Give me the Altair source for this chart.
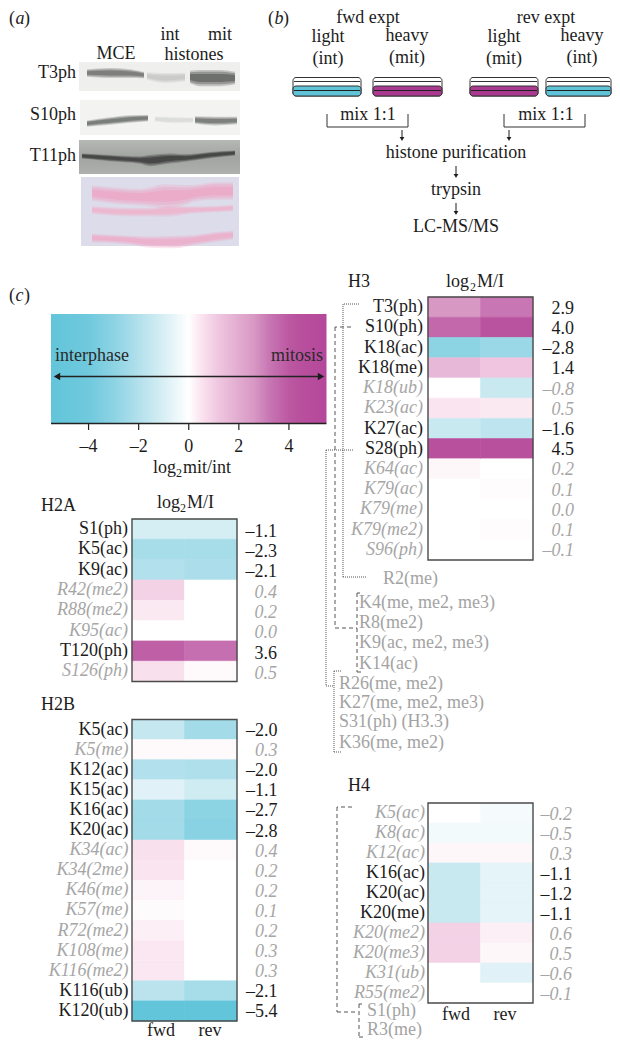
import altair as alt
import pandas as pd

FONT = "Liberation Serif"
INK = "#1c1c1c"
GREY = "#a6a6a6"
TEAL = "#5fc4d8"
MAG = "#a93a90"

# ---- data ----
h3_rows = ["T3(ph)", "S10(ph)", "K18(ac)", "K18(me)", "K18(ub)", "K23(ac)", "K27(ac)", "S28(ph)",
           "K64(ac)", "K79(ac)", "K79(me)", "K79(me2)", "S96(ph)"]
h3_fwd = [2.6, 3.6, -3.0, 1.6, 0, 0.5, -1.4, 4.5, 0.15, 0, 0, 0, 0]
h3_rev = [3.2, 4.3, -2.6, 1.2, -1.4, 0.4, -1.7, 4.5, 0, 0.06, 0, 0.06, 0]
h3_vals = ["2.9", "4.0", "–2.8", "1.4", "–0.8", "0.5", "–1.6", "4.5", "0.2", "0.1", "0.0", "0.1", "–0.1"]
h3_sig = [1, 1, 1, 1, 0, 0, 1, 1, 0, 0, 0, 0, 0]

h2a_rows = ["S1(ph)", "K5(ac)", "K9(ac)", "R42(me2)", "R88(me2)", "K95(ac)", "T120(ph)", "S126(ph)"]
h2a_fwd = [-1.1, -2.3, -2.0, 0.9, 0.4, 0, 3.8, 0.6]
h2a_rev = [-1.1, -2.3, -2.2, 0, 0, 0, 3.4, 0.1]
h2a_vals = ["–1.1", "–2.3", "–2.1", "0.4", "0.2", "0.0", "3.6", "0.5"]
h2a_sig = [1, 1, 1, 0, 0, 0, 1, 0]

h2b_rows = ["K5(ac)", "K5(me)", "K12(ac)", "K15(ac)", "K16(ac)", "K20(ac)", "K34(ac)", "K34(2me)", "K46(me)",
            "K57(me)", "R72(me2)", "K108(me)", "K116(me2)", "K116(ub)", "K120(ub)"]
h2b_fwd = [-1.5, 0.12, -2.0, -0.8, -2.4, -2.4, 0.6, 0.5, 0.2, 0.08, 0.3, 0.45, 0.45, -1.8, -5.4]
h2b_rev = [-2.4, 0.12, -2.1, -1.2, -3.0, -3.1, 0.1, 0, 0, 0, 0, 0, 0, -2.3, -5.4]
h2b_vals = ["–2.0", "0.3", "–2.0", "–1.1", "–2.7", "–2.8", "0.4", "0.2", "0.2", "0.1", "0.2", "0.3", "0.3", "–2.1", "–5.4"]
h2b_sig = [1, 0, 1, 1, 1, 1, 0, 0, 0, 0, 0, 0, 0, 1, 1]

h4_rows = ["K5(ac)", "K8(ac)", "K12(ac)", "K16(ac)", "K20(ac)", "K20(me)", "K20(me2)", "K20(me3)", "K31(ub)", "R55(me2)"]
h4_fwd = [0, -0.3, 0.15, -1.4, -1.4, -1.4, 0.9, 0.9, 0, 0]
h4_rev = [-0.25, -0.3, 0.15, -0.7, -0.7, -0.7, 0.3, 0.15, -0.8, 0]
h4_vals = ["–0.2", "–0.5", "0.3", "–1.1", "–1.2", "–1.1", "0.6", "0.5", "–0.6", "–0.1"]
h4_sig = [0, 0, 0, 1, 1, 1, 0, 0, 0, 0]

cmap_values = [-5.5, -4, -3, -2.3, -1, 0, 0.5, 1.2, 2.6, 3.2, 4, 4.5, 5.5]
cmap_colors = ["#62c5da", "#70c9dd", "#8cd3e4", "#a7dce9", "#d8eff5", "#ffffff", "#fae4ef", "#efc5e0",
               "#d898c4", "#c877b4", "#bc58a2", "#b8509d", "#b5479b"]
legend_ticks = [-4, -2, 0, 2, 4]
legend_labels = ["–4", "–2", "0", "2", "4"]

blot_bands = [
    # colour, x, centre y, half thickness
    ("#6f716e", [87, 110, 130, 144], [73, 73, 73.5, 75], [3, 4, 3.5, 2.5]),
    ("#c6c8c4", [147, 165, 185], [76, 78, 77], [3, 4, 3.5]),
    ("#5e605e", [190, 200, 220, 235], [77, 78, 78, 78], [5, 6.5, 6.5, 5]),
    ("#6b6e6b", [87, 110, 130, 148], [123.5, 121, 119, 118], [2.5, 3, 3, 2.5]),
    ("#d8dad7", [155, 175, 193], [119, 120, 120], [2, 2.5, 2]),
    ("#6e706d", [195, 215, 237], [120, 121, 120.5], [3, 3.5, 3]),
    ("#3a3b3a", [82, 110, 140, 150, 170, 185, 210, 235], [156, 158, 160, 160.5, 158.5, 158, 155, 153],
     [2, 2.5, 3, 4.5, 4, 3, 2.5, 2]),
    ("#eda7c5", [92, 120, 140, 165, 185, 195, 215, 233], [193, 196, 197, 196, 195, 193, 191, 191],
     [6, 6.5, 6.5, 9.5, 8, 6.5, 7, 7]),
    ("#eeb4cd", [92, 130, 150, 170, 190, 215, 233], [210, 212, 212, 211, 210, 209, 208], [3, 3.5, 3.5, 4.5, 3, 2.5, 2.5]),
    ("#edadc9", [92, 130, 150, 175, 195, 215, 233], [238, 240, 242, 242, 240, 237, 235], [3.5, 3.5, 4.5, 5, 4, 4, 3.5]),
]

layers = []
OX, OY = 8, 8
PX = alt.Scale(domain=[0, 620], range=[-OX, 620 - OX])
PY = alt.Scale(domain=[0, 1048], range=[-OY, 1048 - OY])


def T(s, x, y, size=18, align="left", color=INK, italic=False):
    kw = {"fontStyle": "italic"} if italic else {}
    layers.append(
        alt.Chart().mark_text(text=s, font=FONT, fontSize=size, align=align, baseline="middle", color=color, **kw)
        .encode(x=alt.value(x - OX), y=alt.value(y - OY))
    )


def L(x0, y0, x1, y1, color=INK, w=1.0, dash=None):
    kw = {"strokeDash": dash} if dash else {}
    layers.append(
        alt.Chart().mark_rule(color=color, strokeWidth=w, **kw)
        .encode(x=alt.value(x0 - OX), x2=alt.value(x1 - OX), y=alt.value(y0 - OY), y2=alt.value(y1 - OY))
    )


def R(x0, y0, x1, y1, fill=None, stroke=None, w=1.0, radius=0):
    kw = {}
    if fill is not None:
        kw["fill"] = fill
    else:
        kw["fillOpacity"] = 0
    if stroke is not None:
        kw["stroke"] = stroke
        kw["strokeWidth"] = w
    if radius:
        kw["cornerRadius"] = radius
    layers.append(
        alt.Chart().mark_rect(**kw)
        .encode(x=alt.value(x0 - OX), x2=alt.value(x1 - OX), y=alt.value(y0 - OY), y2=alt.value(y1 - OY))
    )


def head(x, y, shape, size=22):
    layers.append(
        alt.Chart().mark_point(shape=shape, filled=True, size=size, color=INK, opacity=1)
        .encode(x=alt.value(x - OX), y=alt.value(y - OY))
    )


def darrow(x, y0, y1):
    L(x, y0, x, y1 - 3, w=1)
    head(x, y1 - 2, "triangle-down", 22)


def logl(x_log, x_sub, x_rest, y, rest):
    T("log", x_log, y)
    T("2", x_sub, y + 5, size=12)
    T(rest, x_rest, y)


# ---- panel labels ----
def plab(letter, x, y):
    T("(", x, y)
    T(letter, x + 6.5, y, italic=True)
    T(")", x + 15, y)


plab("a", 9, 19)
plab("b", 268, 19)
plab("c", 9, 296)

# ---- (a) blots ----
gray = lambda a, b, c: alt.Gradient(gradient="linear", x1=0, x2=0, y1=0, y2=1,
                                    stops=[alt.GradientStop(offset=0, color=a),
                                           alt.GradientStop(offset=0.5, color=b),
                                           alt.GradientStop(offset=1, color=c)])
R(79, 62, 240, 91, fill="#eff0ed")
R(80, 100, 240, 135, fill="#f3f4f2")
R(79, 140, 240, 174, fill=gray("#b6b8b6", "#a2a4a2", "#aeb0ae"))
R(81, 177, 239, 246, fill="#dddcea")
for colour, xs, cs, hs in blot_bands:
    for k, op in ((1.25, 0.3), (0.95, 0.45), (0.6, 0.7)):
        df = pd.DataFrame({"x": xs, "y0": [c - h * k for c, h in zip(cs, hs)], "y1": [c + h * k for c, h in zip(cs, hs)]})
        layers.append(
            alt.Chart(df).mark_area(color=colour, opacity=op, interpolate="monotone").encode(
                x=alt.X("x:Q", scale=PX, axis=None),
                y=alt.Y("y0:Q", scale=PY, axis=None),
                y2="y1:Q",
            )
        )

T("MCE", 116, 54, align="center")
T("int", 170, 35, align="center")
T("mit", 220, 35, align="center")
T("histones", 194, 55, align="center")
T("T3ph", 76, 73, align="right")
T("S10ph", 76, 115, align="right")
T("T11ph", 76, 156, align="right")

# ---- (b) scheme ----
T("fwd expt", 368, 18, align="center")
T("rev expt", 546, 18, align="center")
for x, y, a, b in [(328, 37, "light", "(int)"), (407, 36, "heavy", "(mit)"), (504, 37, "light", "(mit)"), (582, 36, "heavy", "(int)")]:
    T(a, x, y, align="center")
    T(b, x, y + 22, align="center")
for x0, x1, c in [(293, 361, TEAL), (373, 442, MAG), (470, 538, MAG), (546, 611, TEAL)]:
    R(x0, 77.5, x1, 96, fill="#ffffff", stroke="#333333", w=1, radius=3)
    L(x0 + 1, 81.5, x1 - 1, 81.5, color="#333333", w=1)
    R(x0, 86, x1, 96, fill=c, stroke="#333333", w=1, radius=3)
    L(x0 + 1, 90.5, x1 - 1, 90.5, color="#222222", w=1)
for x0, x1 in [(327, 408), (504, 585)]:
    L(x0, 114, x0, 127, color="#333333")
    L(x1, 114, x1, 127, color="#333333")
    L(x0, 127, x1, 127, color="#333333")
T("mix 1:1", 368, 115, align="center")
T("mix 1:1", 546, 115, align="center")
darrow(402, 130, 141)
darrow(509, 130, 141)
T("histone purification", 456, 153, align="center")
darrow(456, 166, 178)
T("trypsin", 456, 190, align="center")
darrow(456, 203, 215)
T("LC-MS/MS", 456, 227, align="center")

# ---- colour bar ----
stops = [alt.GradientStop(offset=(v + 5.5) / 11.0, color=c) for v, c in zip(cmap_values, cmap_colors)]
bar = alt.Gradient(gradient="linear", x1=0, x2=1, y1=0, y2=0, stops=stops)
LEG = alt.Scale(domain=[-5.5, 5.5], range=[51 - OX, 326.5 - OX])
layers.append(
    alt.Chart(pd.DataFrame({"a": [-5.5], "b": [5.5]})).mark_rect(fill=bar).encode(
        x=alt.X("a:Q", scale=LEG, axis=None), x2="b:Q",
        y=alt.value(314 - OY), y2=alt.value(423 - OY))
)
L(51, 423.5, 326.5, 423.5, color="#222222", w=1.3)
layers.append(
    alt.Chart(pd.DataFrame({"v": legend_ticks})).mark_rule(color="#222222", strokeWidth=1.2).encode(
        x=alt.X("v:Q", scale=LEG, axis=None), y=alt.value(423 - OY), y2=alt.value(430 - OY))
)
layers.append(
    alt.Chart(pd.DataFrame({"v": legend_ticks, "t": legend_labels})).mark_text(
        font=FONT, fontSize=18, baseline="middle", color=INK).encode(
        x=alt.X("v:Q", scale=LEG, axis=None), y=alt.value(447 - OY), text="t:N")
)
T("interphase", 55, 356, color="#2a2a2a")
T("mitosis", 323, 356, align="right", color="#2a2a2a")
L(56, 376.5, 322, 376.5, color="#222222", w=1.6)
head(57, 376.5, "triangle-left", 55)
head(321, 376.5, "triangle-right", 55)
logl(153, 176, 183, 468, "mit/int")


# ---- heat maps ----
def panel(rows, fwd, rev, vals, sig, x0, x1, y0, y1, lab_x, val_x, val_dy=1.5):
    df = pd.DataFrame({"row": rows * 2, "exp": ["fwd"] * len(rows) + ["rev"] * len(rows), "v": fwd + rev})
    ys = alt.Scale(domain=rows, range=[y0 - OY, y1 - OY], paddingInner=0, paddingOuter=0)
    xs = alt.Scale(domain=["fwd", "rev"], range=[x0 - OX, x1 - OX], paddingInner=0, paddingOuter=0)
    cs = alt.Scale(domain=cmap_values, range=cmap_colors, interpolate="rgb")
    layers.append(
        alt.Chart(df).mark_rect(strokeWidth=0.6).encode(
            x=alt.X("exp:N", scale=xs, axis=None),
            y=alt.Y("row:N", scale=ys, axis=None),
            color=alt.Color("v:Q", scale=cs, legend=None),
            stroke=alt.Stroke("v:Q", scale=cs, legend=None),
        )
    )
    R(x0, y0, x1, y1, stroke="#4a4a4a", w=1.4)
    for flag, col, style in ((1, INK, {}), (0, GREY, {"fontStyle": "italic"})):
        d = pd.DataFrame({"row": rows, "val": vals, "s": sig})
        d = d[d.s == flag]
        layers.append(
            alt.Chart(d).mark_text(font=FONT, fontSize=18, align="right", baseline="middle", color=col, **style).encode(
                x=alt.value(lab_x - OX), y=alt.Y("row:N", scale=ys, axis=None), text="row:N")
        )
        layers.append(
            alt.Chart(d).mark_text(font=FONT, fontSize=18, align="right", baseline="middle", color=col, dy=val_dy, **style).encode(
                x=alt.value(val_x - OX), y=alt.Y("row:N", scale=ys, axis=None), text="val:N")
        )


panel(h3_rows, h3_fwd, h3_rev, h3_vals, h3_sig, 428, 533, 297, 560, 423, 574)
panel(h2a_rows, h2a_fwd, h2a_rev, h2a_vals, h2a_sig, 132, 237, 519, 681.5, 128, 277, 2.5)
panel(h2b_rows, h2b_fwd, h2b_rev, h2b_vals, h2b_sig, 132, 237, 719.5, 1021, 128.5, 277.5)
panel(h4_rows, h4_fwd, h4_rev, h4_vals, h4_sig, 428, 533, 803, 1003, 425, 572)

T("H3", 348, 282)
logl(446, 470, 477, 282, "M/I")
T("H2A", 41, 506)
logl(157, 180, 187, 503, "M/I")
T("H2B", 41, 705)
T("H4", 348, 786)
T("fwd", 161, 1031, align="center")
T("rev", 210, 1031, align="center")
T("fwd", 456, 1015, align="center")
T("rev", 505, 1015, align="center")

# ---- residues not detected ----
for s, x, y in [("R2(me)", 383, 579), ("K4(me, me2, me3)", 359, 603), ("R8(me2)", 359, 623),
                ("K9(ac, me2, me3)", 359, 643), ("K14(ac)", 359, 664), ("R26(me, me2)", 339, 684),
                ("K27(me, me2, me3)", 339, 703), ("S31(ph) (H3.3)", 339, 722), ("K36(me, me2)", 339, 743),
                ("S1(ph)", 367, 1011), ("R3(me)", 367, 1030)]:
    T(s, x, y, color="#a3a3a3")

# ---- connectors ----
DOT = [1, 1]
DSH = [4, 3]
CC = "#555555"
for pts, d in [
    ([(359, 304), (343, 304), (343, 577), (367, 577)], DOT),
    ([(351, 327), (335, 327), (335, 628), (357, 628)], DSH),
    ([(360, 593), (357, 593), (357, 672), (363, 672)], DSH),
    ([(353, 450), (326, 450), (326, 686), (334, 686)], DOT),
    ([(341, 671), (334, 671), (334, 752), (341, 752)], DOT),
    ([(352, 807), (337, 807), (337, 1012), (358, 1012)], DSH),
    ([(362, 1004), (359, 1004), (359, 1037), (365, 1037)], DSH),
]:
    for (a, b), (c, e) in zip(pts[:-1], pts[1:]):
        L(a, b, c, e, color=CC, w=1, dash=d)

chart = (
    alt.layer(*layers)
    .resolve_scale(x="independent", y="independent", color="independent", stroke="independent")
    .properties(width=604, height=1032, padding=0, background="#ffffff",
                autosize=alt.AutoSizeParams(type="none"))
    .configure_view(stroke=None)
)
chart.save("out.html", embed_options={"renderer": "svg", "actions": False})
